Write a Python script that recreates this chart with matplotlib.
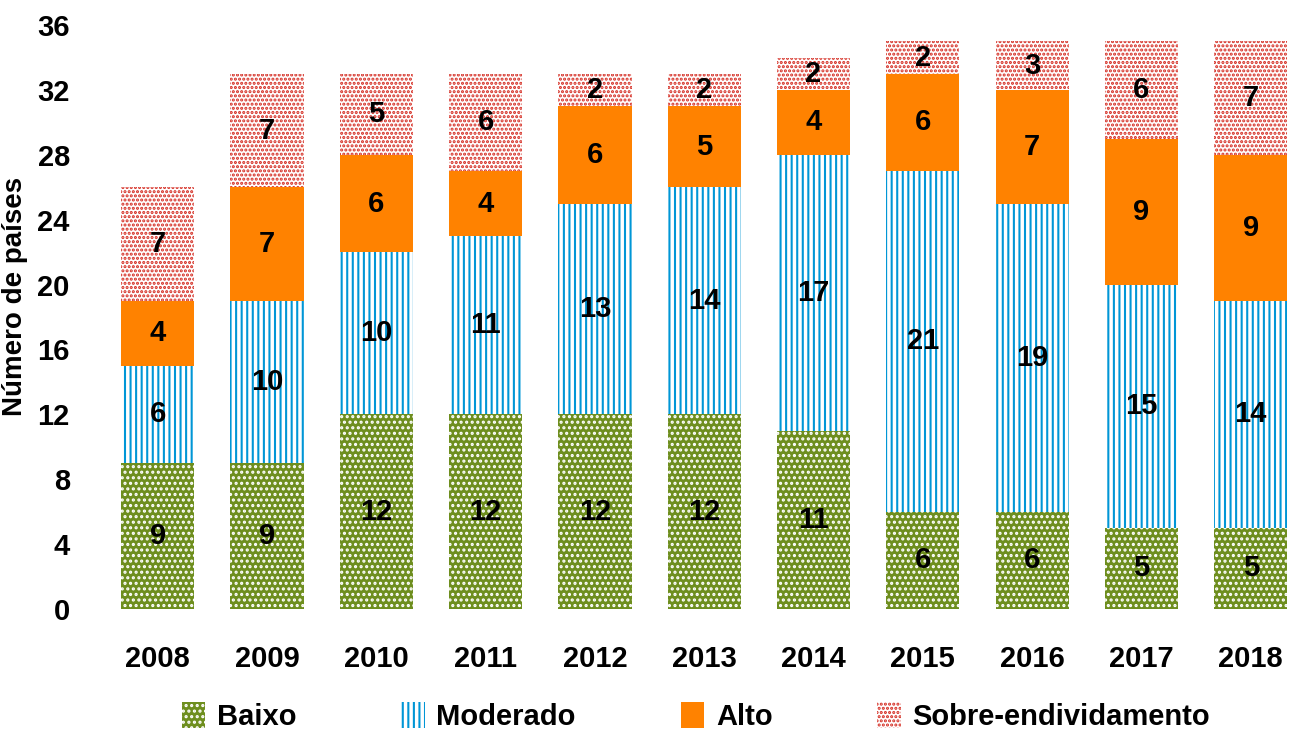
import numpy as np
import matplotlib.pyplot as plt
from matplotlib import font_manager

# ── Data ─────────────────────────────────────────────
YEARS    = ['2008', '2009', '2010', '2011', '2012', '2013',
            '2014', '2015', '2016', '2017', '2018']
BAIXO    = [9, 9, 12, 12, 12, 12, 11, 6, 6, 5, 5]
MODERADO = [6, 10, 10, 11, 13, 14, 17, 21, 19, 15, 14]
ALTO     = [4, 7, 6, 4, 6, 5, 4, 6, 7, 9, 9]
SOBRE    = [7, 7, 5, 6, 2, 2, 2, 2, 3, 6, 7]
YTICKS   = list(range(0, 37, 4))

names = {f.name for f in font_manager.fontManager.ttflist}
FONT = 'Liberation Sans Narrow' if 'Liberation Sans Narrow' in names else 'Liberation Sans'
plt.rcParams['font.family'] = [FONT, 'DejaVu Sans']
plt.rcParams['hatch.linewidth'] = 1.5

SERIES = [
    ('Baixo',               BAIXO,    dict(color='#6E8E1E', edgecolor='white', hatch='...')),
    ('Moderado',            MODERADO, dict(color='white', edgecolor='#0096D6', hatch='|||')),
    ('Alto',                ALTO,     dict(color='#FF8200', edgecolor='#FF8200')),
    ('Sobre-endividamento', SOBRE,    dict(color='white', edgecolor='#D42A20', hatch='....')),
]

FS = 21

fig = plt.figure(figsize=(12.89, 7.39), dpi=100)
ax = fig.add_axes([0.08, 0.176, 0.92, 0.790])

x = np.arange(len(YEARS))
bottom = np.zeros(len(YEARS))
handles = []
for label, vals, style in SERIES:
    vals = np.array(vals, dtype=float)
    b = ax.bar(x, vals, 0.67, bottom=bottom, linewidth=0, label=label, **style)
    handles.append(b)
    for xi, v, b0 in zip(x, vals, bottom):
        ax.text(xi, b0 + v / 2, f'{int(v)}', ha='center', va='center',
                fontsize=FS, fontweight='bold', color='black')
    bottom += vals

ax.set_xlim(-0.5, 10.35)
ax.set_ylim(0, 36)
ax.set_yticks(YTICKS)
ax.set_xticks(x)
ax.set_xticklabels(YEARS)
ax.tick_params(length=0, labelsize=FS)
ax.tick_params(axis='y', pad=24)
ax.tick_params(axis='x', pad=26)
for lab in ax.get_xticklabels() + ax.get_yticklabels():
    lab.set_fontweight('bold')
for s in ax.spines.values():
    s.set_visible(False)
ax.set_ylabel('Número de países', fontsize=20, fontweight='bold')
ax.yaxis.set_label_coords(-0.0635, 0.535)

fig.legend(handles=handles, loc='lower center', bbox_to_anchor=(0.54, -0.025),
           ncol=4, frameon=False, prop={'size': FS, 'weight': 'bold'},
           handlelength=0.8, handleheight=1.0, handletextpad=0.4,
           columnspacing=3.6)

fig.savefig('out.png', dpi=100)
